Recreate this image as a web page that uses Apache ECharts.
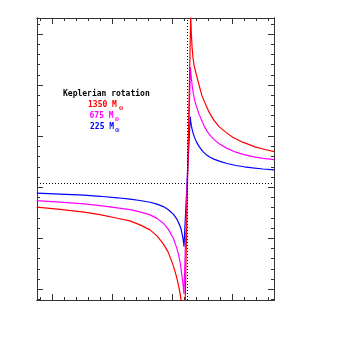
<!DOCTYPE html>
<html>
<head>
<meta charset="utf-8">
<script src="https://cdn.jsdelivr.net/npm/echarts@6.0.0/dist/echarts.min.js"></script>
<style>
  html, body { margin: 0; padding: 0; background: #fff; }
  #chart { width: 337px; height: 337px; }
</style>
</head>
<body>
<div id="chart"></div>
<script>
// offsets (arcsec) and velocities (km/s)
const redOffset = [-1.127, -0.933, -0.733, -0.600, -0.456, -0.350, -0.267, -0.183, -0.125, -0.0725, -0.033, -0.010, 0.011, 0.0275, 0.042, 0.056, 0.067, 0.075, 0.083, 0.0933, 0.1025,
                   0.156, 0.161, 0.167, 0.175, 0.183, 0.196, 0.214, 0.25, 0.275, 0.311, 0.35, 0.394, 0.45, 0.506, 0.589, 0.692, 0.775, 0.852];
const redVel = [-1.959, -2.165, -2.439, -2.684, -3.046, -3.301, -3.692, -4.182, -4.770, -5.553, -6.337, -7.023, -7.708, -8.345, -8.981, -9.716, -10.402, -11.038, -11.919, -13.487, -16.131,
                16.876, 15.114, 13.741, 12.664, 11.979, 11.342, 10.509, 8.942, 8.256, 7.297, 6.543, 5.906, 5.367, 4.897, 4.407, 3.947, 3.692, 3.487];

const magOffset = [-1.127, -0.933, -0.733, -0.600, -0.456, -0.350, -0.267, -0.183, -0.125, -0.0725, -0.033, 0.011, 0.029, 0.042, 0.056, 0.067, 0.075, 0.083, 0.092, 0.100,
                   0.154, 0.158, 0.1625, 0.169, 0.1775, 0.192, 0.2225, 0.242, 0.269, 0.296, 0.325, 0.358, 0.394, 0.458, 0.533, 0.600, 0.6725, 0.758, 0.852];
const magVel = [-1.312, -1.459, -1.636, -1.812, -2.027, -2.204, -2.419, -2.713, -3.056, -3.526, -4.084, -4.995, -5.602, -6.043, -6.680, -7.316, -7.953, -8.688, -9.520, -10.451,
                11.753, 11.097, 10.558, 9.873, 9.187, 8.355, 7.228, 6.690, 5.955, 5.416, 4.976, 4.584, 4.261, 3.800, 3.428, 3.183, 2.997, 2.830, 2.703];

const blueOffset = [-1.127, -0.933, -0.733, -0.600, -0.456, -0.350, -0.267, -0.183, -0.125, -0.0725, -0.033, 0.011, 0.042, 0.067, 0.075, 0.083, 0.089, 0.094, 0.0975, 0.100,
                    0.152, 0.156, 0.161, 0.167, 0.175, 0.1875, 0.204, 0.225, 0.256, 0.283, 0.317, 0.354, 0.394, 0.458, 0.533, 0.600, 0.6725, 0.758, 0.852];
const blueVel = [-0.588, -0.676, -0.784, -0.891, -1.038, -1.166, -1.303, -1.479, -1.655, -1.900, -2.184, -2.635, -3.154, -3.790, -4.084, -4.525, -4.868, -5.211, -5.504, -5.818,
                 6.915, 6.445, 6.053, 5.710, 5.318, 4.878, 4.437, 3.996, 3.506, 3.212, 2.938, 2.723, 2.546, 2.321, 2.125, 1.998, 1.890, 1.783, 1.694];

const masses = ['1350', '675', '225'];
const colors = ['#ff0000', '#ff00ff', '#0000ff'];

const xSys = 0.128;   // dotted vertical
const vSys = 0.38;    // dotted horizontal

const xMajorTicks = [-1.0, -0.5, 0, 0.5];
const xMinorTicks = [-1.1, -1.0, -0.9, -0.8, -0.7, -0.6, -0.5, -0.4, -0.3, -0.2, -0.1, 0, 0.1, 0.2, 0.3, 0.4, 0.5, 0.6, 0.7, 0.8];
const yMajorTicks = [-10, -5, 0, 5, 10, 15];
const yMinorTicks = [-11, -10, -9, -8, -7, -6, -5, -4, -3, -2, -1, 0, 1, 2, 3, 4, 5, 6, 7, 8, 9, 10, 11, 12, 13, 14, 15, 16];

const xMin = -1.125, xMax = 0.85;
const yMin = -11.05, yMax = 16.57;

function pairs(xs, ys) {
    return xs.map((x, i) => [x, ys[i]]);
}

function frameAxis(pos, ticks, len, min, max) {
    return {
        type: 'value',
        position: pos,
        min: min,
        max: max,
        axisLine: { show: true, onZero: false, lineStyle: { color: '#333', width: 1 } },
        axisTick: { show: true, inside: true, length: len, customValues: ticks, lineStyle: { color: '#333', width: 1 } },
        axisLabel: { show: false },
        splitLine: { show: false }
    };
}

function label(x, y, text, color) {
    return { type: 'text', x: x, y: y, style: { text: text, fill: color, font: 'bold 8px "DejaVu Sans Mono", monospace', textVerticalAlign: 'middle' } };
}
function sun(x, y, color) {
    return { type: 'text', x: x, y: y, style: { text: '\u2299', fill: color, font: 'bold 6px "DejaVu Sans"', textVerticalAlign: 'middle' } };
}

let myChart = echarts.init(document.getElementById('chart'));
let option = {
    animation: false,
    grid: { left: 37, right: 63, top: 18, bottom: 37 },
    xAxis: [
        frameAxis('bottom', xMajorTicks, 6, xMin, xMax),
        frameAxis('bottom', xMinorTicks, 3, xMin, xMax),
        frameAxis('top', xMajorTicks, 6, xMin, xMax),
        frameAxis('top', xMinorTicks, 3, xMin, xMax)
    ],
    yAxis: [
        frameAxis('left', yMajorTicks, 6, yMin, yMax),
        frameAxis('left', yMinorTicks, 3, yMin, yMax),
        frameAxis('right', yMajorTicks, 6, yMin, yMax),
        frameAxis('right', yMinorTicks, 3, yMin, yMax)
    ],
    series: [
        {
            type: 'line', name: '225', data: pairs(blueOffset, blueVel),
            showSymbol: false, lineStyle: { color: colors[2], width: 1.2 },
            markLine: {
                silent: true, symbol: 'none', label: { show: false },
                lineStyle: { color: '#000', width: 1, type: [1, 2] },
                data: [{ xAxis: xSys }, { yAxis: vSys }]
            }
        },
        { type: 'line', name: '675', data: pairs(magOffset, magVel), showSymbol: false, lineStyle: { color: colors[1], width: 1.2 } },
        { type: 'line', name: '1350', data: pairs(redOffset, redVel), showSymbol: false, lineStyle: { color: colors[0], width: 1.2 } }
    ],
    graphic: [
        label(63, 94, 'Keplerian rotation', '#000'),
        label(88, 104.5, masses[0] + ' M', colors[0]),
        sun(118.5, 108.5, colors[0]),
        label(89.5, 115.7, masses[1] + ' M', colors[1]),
        sun(114.2, 119.5, colors[1]),
        label(90, 126.7, masses[2] + ' M', colors[2]),
        sun(114.7, 130.5, colors[2])
    ]
};
myChart.setOption(option);
</script>
</body>
</html>
